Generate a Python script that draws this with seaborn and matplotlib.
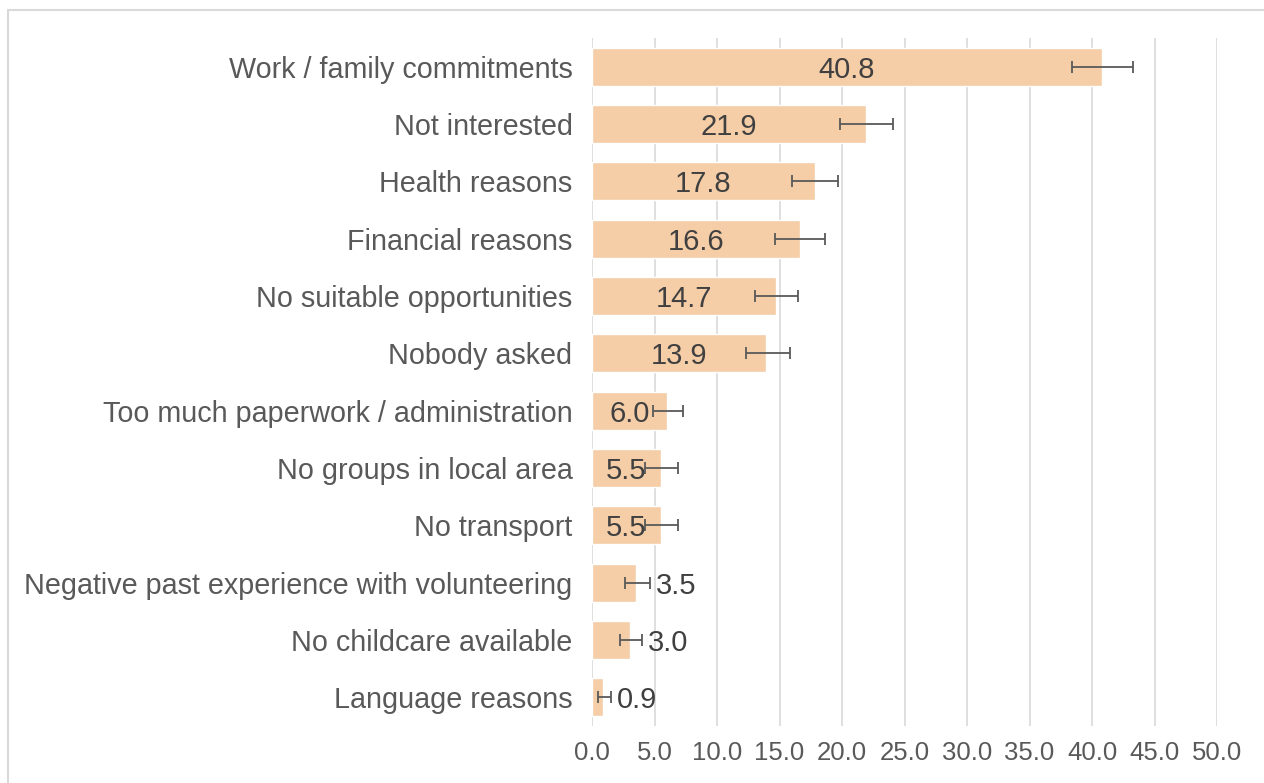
import matplotlib
matplotlib.use("Agg")
import matplotlib.pyplot as plt
import seaborn as sns
import pandas as pd
from matplotlib.patches import Rectangle

reasons = [
    "Work / family commitments",
    "Not interested",
    "Health reasons",
    "Financial reasons",
    "No suitable opportunities",
    "Nobody asked",
    "Too much paperwork / administration",
    "No groups in local area",
    "No transport",
    "Negative past experience with volunteering",
    "No childcare available",
    "Language reasons",
]
percent = [40.8, 21.9, 17.8, 16.6, 14.7, 13.9, 6.0, 5.5, 5.5, 3.5, 3.0, 0.9]
err_low = [2.4, 2.1, 1.8, 2.0, 1.7, 1.6, 1.1, 1.3, 1.3, 0.9, 0.8, 0.4]
err_high = [2.5, 2.2, 1.9, 2.0, 1.8, 1.9, 1.3, 1.4, 1.4, 1.1, 1.0, 0.6]
xticks = [0, 5, 10, 15, 20, 25, 30, 35, 40, 45, 50]

df = pd.DataFrame({"reason": reasons, "percent": percent})

sns.set_style("white")
plt.rcParams["font.family"] = ["Liberation Sans", "DejaVu Sans"]

fig = plt.figure(figsize=(12.64, 7.83), dpi=100)
ax = fig.add_axes([592 / 1264, 1 - 726 / 783, 625 / 1264, 688 / 783])

sns.barplot(data=df, x="percent", y="reason", orient="h", color="#F5CDA7",
            saturation=1, width=0.66, ax=ax, zorder=2)
ax.errorbar(percent, range(len(reasons)), xerr=[err_low, err_high], fmt="none",
            ecolor="#595959", elinewidth=1.3, capsize=4.5, capthick=1.3, zorder=3)

for i, v in enumerate(percent):
    if v >= 5:
        ax.text(v / 2, i, f"{v:.1f}", ha="center", va="center_baseline",
                fontsize=21, color="#404040", zorder=4)
    else:
        ax.text(v + err_high[i] + 0.5, i, f"{v:.1f}", ha="left",
                va="center_baseline", fontsize=21, color="#404040", zorder=4)

ax.set_xlim(0, 50)
ax.set_ylim(len(reasons) - 0.5, -0.5)
ax.set_xticks(xticks)
ax.set_xticklabels([f"{t:.1f}" for t in xticks])
ax.grid(axis="x", color="#d9d9d9", linewidth=1.2, zorder=0)
ax.set_axisbelow(True)
for s in ax.spines.values():
    s.set_visible(False)
ax.tick_params(axis="both", length=0, colors="#595959")
ax.tick_params(axis="y", labelsize=20.7, pad=14)
ax.tick_params(axis="x", labelsize=18.5, pad=11)
for lbl in ax.get_yticklabels():
    lbl.set_verticalalignment("center_baseline")
ax.set_xlabel("")
ax.set_ylabel("")

fig.patches.append(Rectangle((8 / 1264, -0.1), 1.2, 1 - 10 / 783 + 0.1,
                             transform=fig.transFigure, fill=False,
                             edgecolor="#d9d9d9", linewidth=1.5))

fig.savefig("out.png", dpi=100)
